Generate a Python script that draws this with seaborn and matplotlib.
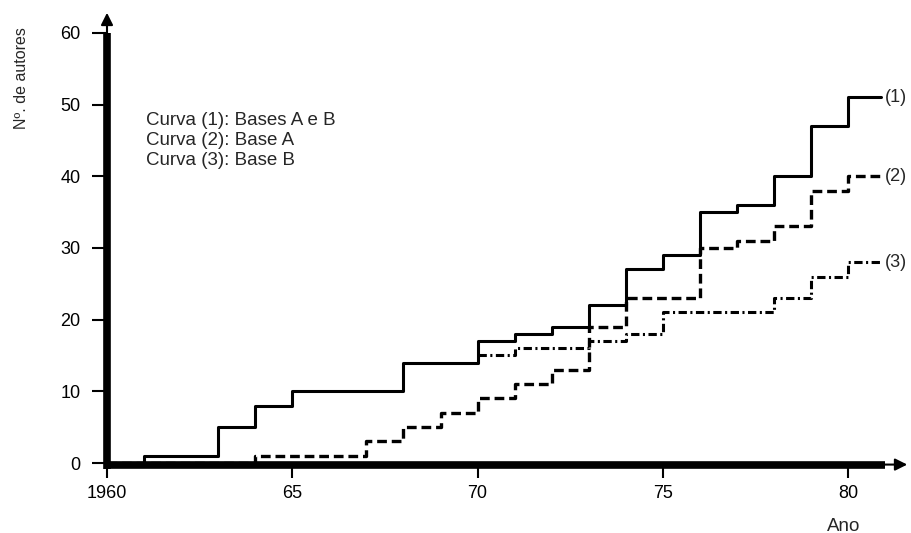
import matplotlib
matplotlib.use("Agg")
import matplotlib.pyplot as plt
import seaborn as sns

# curva (1): bases A e B
anos_1 = [1960, 1961, 1963, 1964, 1965, 1968, 1970, 1971, 1972, 1973, 1974,
          1975, 1976, 1977, 1978, 1979, 1980, 1980.9]
autores_1 = [0, 1, 5, 8, 10, 14, 17, 18, 19, 22, 27, 29, 35, 36, 40, 47, 51, 51]

# curva (2): base A
anos_2 = [1960, 1964, 1967, 1968, 1969, 1970, 1971, 1972, 1973, 1974, 1976,
          1977, 1978, 1979, 1980, 1980.9]
autores_2 = [0, 1, 3, 5, 7, 9, 11, 13, 19, 23, 30, 31, 33, 38, 40, 40]

# curva (3): base B (separa-se da curva 1 em 1970)
anos_3 = [1970, 1971, 1973, 1974, 1975, 1978, 1979, 1980, 1980.9]
autores_3 = [15, 16, 17, 18, 21, 23, 26, 28, 28]

anos_ticks = [1960, 1965, 1970, 1975, 1980]
anos_labels = ["1960", "65", "70", "75", "80"]
autores_ticks = [0, 10, 20, 30, 40, 50, 60]

legenda = ["Curva (1): Bases A e B", "Curva (2): Base A", "Curva (3): Base B"]

sns.set_theme(style="white")
plt.rcParams["font.family"] = ["Liberation Sans", "DejaVu Sans"]
plt.rcParams["lines.scale_dashes"] = False

fig = plt.figure(figsize=(9.11, 5.33), dpi=100)
ax = fig.add_axes([107 / 911, 70 / 533, 803 / 911, 453 / 533])

sns.lineplot(x=anos_1, y=autores_1, ax=ax, drawstyle="steps-post",
             color="black", lw=2.2)
sns.lineplot(x=anos_2, y=autores_2, ax=ax, drawstyle="steps-post",
             color="black", lw=2.4, linestyle=(0, (7, 3.5)))
sns.lineplot(x=anos_3, y=autores_3, ax=ax, drawstyle="steps-post",
             color="black", lw=2.2, linestyle=(0, (6, 2.5, 1.5, 2.5)))

ax.set_xlim(1960, 1981.67)
ax.set_ylim(0, 63.2)
for s in ax.spines.values():
    s.set_visible(False)

# eixos grossos com setas
ax.plot([1960, 1981.0], [-0.22, -0.22], color="black", lw=5.5,
        solid_capstyle="butt", clip_on=False, zorder=5)
ax.annotate("", xy=(1981.67, -0.22), xytext=(1980.8, -0.22),
            arrowprops=dict(arrowstyle="-|>", color="black", lw=1.5,
                            mutation_scale=18), annotation_clip=False)
ax.plot([1960, 1960], [-0.8, 60], color="black", lw=5.5,
        solid_capstyle="butt", clip_on=False, zorder=5)
ax.annotate("", xy=(1960, 63.2), xytext=(1960, 59),
            arrowprops=dict(arrowstyle="-|>", color="black", lw=1.5,
                            mutation_scale=18), annotation_clip=False)

ax.set_xticks(anos_ticks)
ax.set_xticklabels(anos_labels)
ax.set_yticks(autores_ticks)
ax.tick_params(bottom=True, left=True, direction="out", length=11,
               width=1.5, color="black", labelsize=13, labelcolor="black")
ax.tick_params(axis="x", pad=5)
ax.tick_params(axis="y", pad=8)
ax.set_xlabel("")
ax.set_ylabel("")

for i, txt in enumerate(legenda):
    ax.text(1961.05, 47.8 - 2.8 * i, txt, fontsize=13.5, va="center", ha="left")

ax.text(1981.0, autores_1[-1], "(1)", fontsize=13, va="center", ha="left", clip_on=False)
ax.text(1981.0, autores_2[-1], "(2)", fontsize=13, va="center", ha="left", clip_on=False)
ax.text(1981.0, autores_3[-1], "(3)", fontsize=13, va="center", ha="left", clip_on=False)

ax.text(1979.87, -8.8, "Ano", fontsize=13.5, va="center", ha="center", clip_on=False)
fig.text(22 / 911, 1 - 78 / 533, "Nº. de autores", rotation=90,
         fontsize=11.5, ha="center", va="center")

fig.savefig("out.png", dpi=100)
